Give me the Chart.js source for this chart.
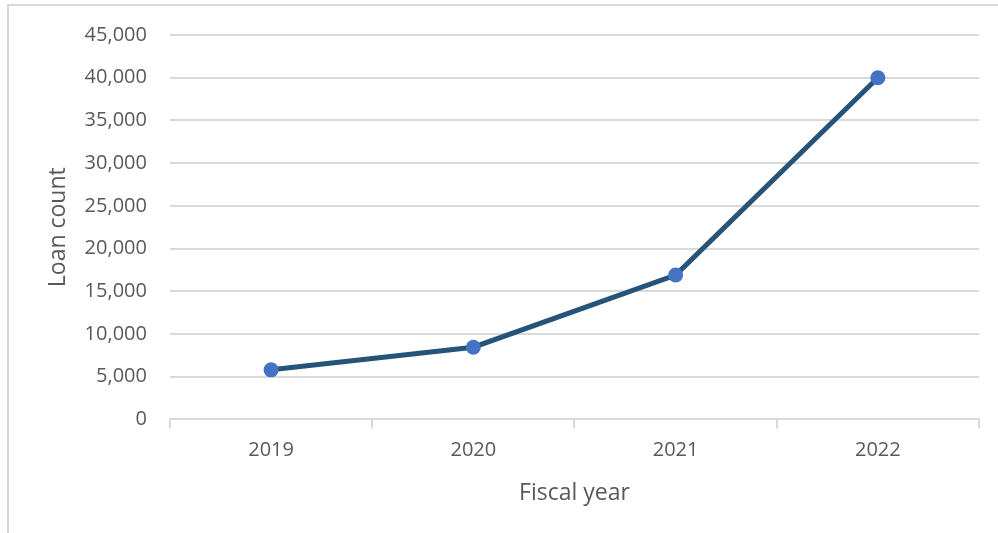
<!DOCTYPE html>
<html>
<head>
<meta charset="utf-8">
<script src="https://cdn.jsdelivr.net/npm/chart.js@4"></script>
<style>
    html, body { margin: 0; padding: 0; background: #fff; }
    #wrap { position: relative; width: 998px; height: 533px; overflow: hidden; }
    #frame { position: absolute; left: 7px; top: 4px; width: 1100px; height: 700px;
             border-left: 2px solid #d9d9d9; border-top: 2px solid #d9d9d9; }
    canvas { position: absolute; left: 0; top: 0; }
</style>
</head>
<body>
<div id="wrap">
    <div id="frame"></div>
    <canvas id="grafico" width="998" height="533"></canvas>
</div>
<script>
// dados
const anosFiscais = ['2019', '2020', '2021', '2022'];
const qtdEmprestimos = [5800, 8450, 16900, 40000];
const eixoY = { min: 0, max: 45000, passo: 5000 };

const corTexto = '#595959';
const corGrade = '#d9d9d9';
const fonte = "'Open Sans', 'Noto Sans', sans-serif";

new Chart(document.getElementById('grafico').getContext('2d'), {
    type: 'line',
    data: {
        labels: anosFiscais,
        datasets: [{
            label: 'Loan count',
            data: qtdEmprestimos,
            borderColor: '#255478',
            borderWidth: 5,
            pointBackgroundColor: '#4472C4',
            pointBorderColor: '#4472C4',
            pointRadius: 7.5,
            pointBorderWidth: 0,
            tension: 0
        }]
    },
    options: {
        responsive: false,
        animation: false,
        layout: { padding: { top: 18, right: 19, bottom: 22, left: 45 } },
        plugins: { legend: { display: false }, tooltip: { enabled: false } },
        scales: {
            x: {
                offset: true,
                grid: { drawOnChartArea: false, offset: true, tickLength: 9, color: corGrade, lineWidth: 2 },
                border: { display: true, color: corGrade, width: 2 },
                ticks: { color: corTexto, font: { family: fonte, size: 20 }, padding: 10 },
                title: { display: true, text: 'Fiscal year', color: corTexto, font: { family: fonte, size: 23 }, padding: { top: 7 } }
            },
            y: {
                min: eixoY.min,
                max: eixoY.max,
                grid: { color: corGrade, lineWidth: 2, drawTicks: false },
                border: { display: false },
                ticks: {
                    stepSize: eixoY.passo,
                    color: corTexto,
                    font: { family: fonte, size: 20 },
                    padding: 23,
                    callback: v => v.toLocaleString('en-US')
                },
                title: { display: true, text: 'Loan count', color: corTexto, font: { family: fonte, size: 23 }, padding: { top: 0, bottom: -11 } }
            }
        }
    }
});
</script>
</body>
</html>
